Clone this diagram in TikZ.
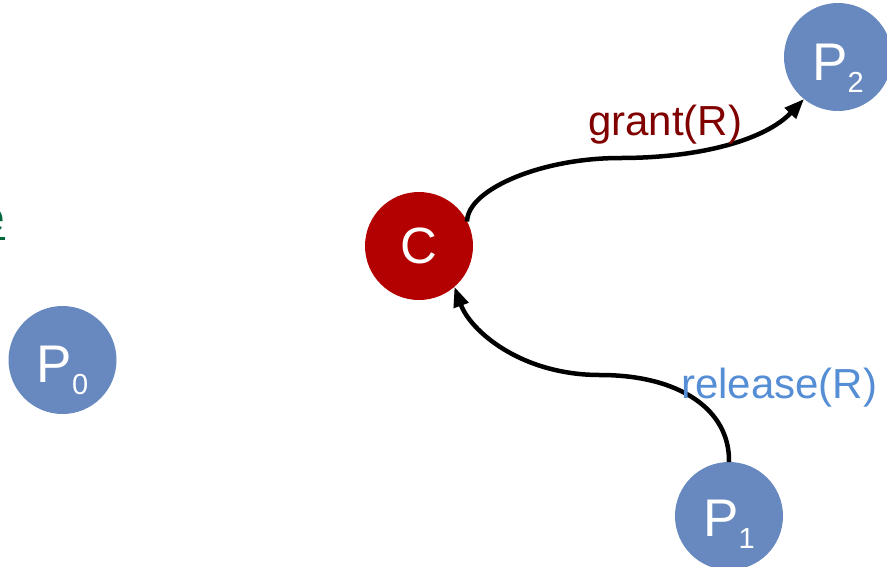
\documentclass[tikz,border=0pt]{standalone}
\usepackage{fontspec}
\setmainfont{Liberation Sans}
\usetikzlibrary{arrows.meta}
\definecolor{pblue}{RGB}{103,137,191}
\definecolor{cred}{RGB}{179,0,0}
\definecolor{grantc}{RGB}{128,0,0}
\definecolor{relc}{RGB}{85,142,213}
\definecolor{egreen}{RGB}{0,102,60}
\begin{document}
\begin{tikzpicture}[x=1pt,y=-1pt,
  proc/.style={circle,fill=pblue,draw=none,minimum size=108pt,inner sep=0pt,outer sep=0pt},
  coord/.style={circle,fill=cred,draw=none,minimum size=108pt,inner sep=0pt,outer sep=0pt,
    text=white,font=\fontsize{51}{51}\selectfont},
  plabel/.style={anchor=base,text=white,inner sep=0pt,font=\fontsize{53}{53}\selectfont},
  arr/.style={line width=4.5pt,-{Triangle[length=20pt,width=15pt]}},
  msg/.style={anchor=base west,inner sep=0pt,font=\fontsize{42}{42}\selectfont}]
\useasboundingbox (0,0) rectangle (887,566);
% nodes
\node[coord] (C) at (419,246) {C};
\node[proc] (P0) at (62.5,360) {};
\node[proc] (P1) at (729,516) {};
\node[proc] (P2) at (838,57) {};
\node[plabel] (L0) at ([yshift=-22pt]P0.center) {P\raisebox{-12pt}{\fontsize{29}{29}\selectfont 0}};
\node[plabel] (L1) at ([yshift=-20pt]P1.center) {P\raisebox{-12pt}{\fontsize{29}{29}\selectfont 1}};
\node[plabel] (L2) at ([yshift=-23pt]P2.center) {P\raisebox{-12pt}{\fontsize{29}{29}\selectfont 2}};
% cut-off text at left edge
\node[anchor=base east,inner sep=0pt,text=egreen,font=\fontsize{44}{44}\selectfont] (E) at (5,232)
  {\sbox0{e}\rlap{\rule[-8pt]{\wd0}{3.5pt}}e};
% messages
\coordinate (g1) at (620,158);
\coordinate (r1) at (600,375);
\draw[arr] (C.27) .. controls (467,190) and (540,158) .. (g1)
  .. controls (700,158) and (765,140) .. (P2.231);
\draw[arr] (P1.90) .. controls (730,410) and (680,375) .. (r1)
  .. controls (520,375) and (470,330) .. (C.311);
\node[msg,text=grantc] (grant) at (588,135) {grant(R)};
\node[msg,text=relc] (rel) at (681,398) {release(R)};
\end{tikzpicture}
\end{document}
